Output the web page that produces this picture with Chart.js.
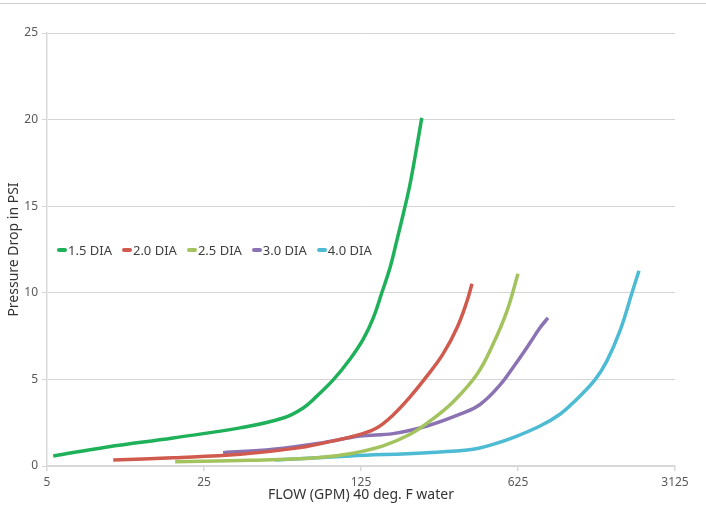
<!DOCTYPE html>
<html>
<head>
<meta charset="utf-8">
<script src="https://cdn.jsdelivr.net/npm/chart.js@4/dist/chart.umd.min.js"></script>
<style>
  html, body { margin: 0; padding: 0; background: #fff; }
  #wrap { position: relative; width: 706px; height: 512px; }
  #topline { position: absolute; left: 0; top: 3px; width: 706px; height: 0; border-top: 1px solid #cfcfcf; }
  #legend { position: absolute; left: 57px; top: 241px; display: flex; font-family: "Noto Sans", sans-serif; font-size: 13px; color: #404040; }
  #legend .item { display: flex; align-items: center; margin-right: 10px; }
  #legend .sw { width: 10px; height: 4px; border-radius: 2px; margin-right: 1px; }
</style>
</head>
<body>
<div id="wrap">
  <div id="topline"></div>
  <canvas id="flowChart" width="706" height="512"></canvas>
  <div id="legend"></div>
</div>
<script>
// flow in GPM (x) and pressure drop in PSI (y)
const labels = ['1.5 DIA', '2.0 DIA', '2.5 DIA', '3.0 DIA', '4.0 DIA'];
const colors = ['#1fb15a', '#cf5a4d', '#a2c35d', '#8b72b3', '#4cbbd3'];

const flow15 = [5.33, 9.27, 18.2, 36.2, 56.3, 69.1, 79.7, 94.0, 111.8, 128.1, 141.9, 154.7, 168.4, 180.3, 196.5, 206.7, 219.9, 233];
const psi15  = [0.58, 1.10, 1.62, 2.20, 2.77, 3.35, 4.05, 4.97, 6.18, 7.34, 8.57, 10.0, 11.46, 13.0, 15.0, 16.28, 18.2, 20.1];

const flow20 = [9.86, 18.2, 36.2, 67.0, 94.0, 123.9, 147.4, 173.7, 206.7, 246, 289.9, 334.5, 371, 390];
const psi20  = [0.35, 0.48, 0.68, 1.06, 1.45, 1.83, 2.21, 2.95, 3.99, 5.20, 6.47, 7.98, 9.54, 10.52];

const flow25 = [18.6, 40.1, 79.7, 111.8, 156.8, 206.7, 253.7, 321, 410.6, 483.7, 558.4, 625];
const psi25  = [0.25, 0.33, 0.48, 0.71, 1.16, 1.83, 2.60, 3.70, 5.30, 7.03, 8.96, 11.1];

const flow30 = [30.4, 50.8, 84.8, 123.9, 173.7, 246, 345, 423.4, 519.9, 606, 707, 783, 850];
const psi30  = [0.77, 0.97, 1.35, 1.73, 1.87, 2.31, 2.99, 3.55, 4.68, 5.85, 7.11, 7.98, 8.55];

const flow40 = [51.8, 111.8, 246, 394, 483.7, 594, 783, 961, 1121, 1375, 1555, 1777, 2011, 2160];
const psi40  = [0.35, 0.58, 0.77, 0.97, 1.25, 1.64, 2.31, 2.99, 3.76, 4.97, 6.07, 7.80, 10.0, 11.27];

const xTicks = [5, 25, 125, 625, 3125];
const yTicks = [0, 5, 10, 15, 20, 25];

const flows = [flow15, flow20, flow25, flow30, flow40];
const psis = [psi15, psi20, psi25, psi30, psi40];

const datasets = labels.map((label, i) => ({
  label: label,
  data: flows[i].map((f, j) => ({ x: f, y: psis[i][j] })),
  borderColor: colors[i],
  backgroundColor: colors[i],
  borderWidth: 3.5,
  pointRadius: 0,
  tension: 0.4,
  fill: false
}));

const tickFont = { family: '"Noto Sans", sans-serif', size: 12 };
const titleFont = { family: '"Noto Sans", sans-serif', size: 14 };

const chart = new Chart(document.getElementById('flowChart'), {
  type: 'line',
  data: { datasets: datasets },
  options: {
    responsive: false,
    animation: false,
    layout: { padding: { top: 33, right: 31, left: 0, bottom: 0 } },
    plugins: { legend: { display: false }, tooltip: { enabled: false } },
    scales: {
      x: {
        type: 'logarithmic',
        min: 5,
        max: 3125,
        afterBuildTicks: scale => { scale.ticks = xTicks.map(v => ({ value: v })); },
        afterFit: scale => { scale.height = 46; },
        ticks: { color: '#595959', font: tickFont, padding: 4, maxRotation: 0, callback: v => String(v) },
        grid: { drawOnChartArea: false, drawTicks: true, tickLength: 5, color: '#d9d9d9', lineWidth: 1.5 },
        border: { color: '#d9d9d9', width: 1.5 },
        title: { display: true, text: 'FLOW (GPM) 40 deg. F water', color: '#333', font: titleFont, padding: { top: 0, bottom: 9 } }
      },
      y: {
        min: 0,
        max: 25,
        afterBuildTicks: scale => { scale.ticks = yTicks.map(v => ({ value: v })); },
        afterFit: scale => { scale.width = 47; },
        ticks: { color: '#595959', font: tickFont, padding: 4 },
        grid: { color: '#d4d4d4', lineWidth: 1, tickLength: 5, drawTicks: true },
        border: { color: '#d9d9d9', width: 1.5 },
        title: { display: true, text: 'Pressure Drop in PSI', color: '#333', font: titleFont, padding: { top: 6, bottom: 0 } }
      }
    }
  }
});

// legend sits inside the plot area, like the original
const legendEl = document.getElementById('legend');
Chart.defaults.plugins.legend.labels.generateLabels(chart).forEach(item => {
  const div = document.createElement('div');
  div.className = 'item';
  const sw = document.createElement('span');
  sw.className = 'sw';
  sw.style.background = item.strokeStyle;
  const txt = document.createElement('span');
  txt.textContent = item.text;
  div.appendChild(sw);
  div.appendChild(txt);
  legendEl.appendChild(div);
});
</script>
</body>
</html>
